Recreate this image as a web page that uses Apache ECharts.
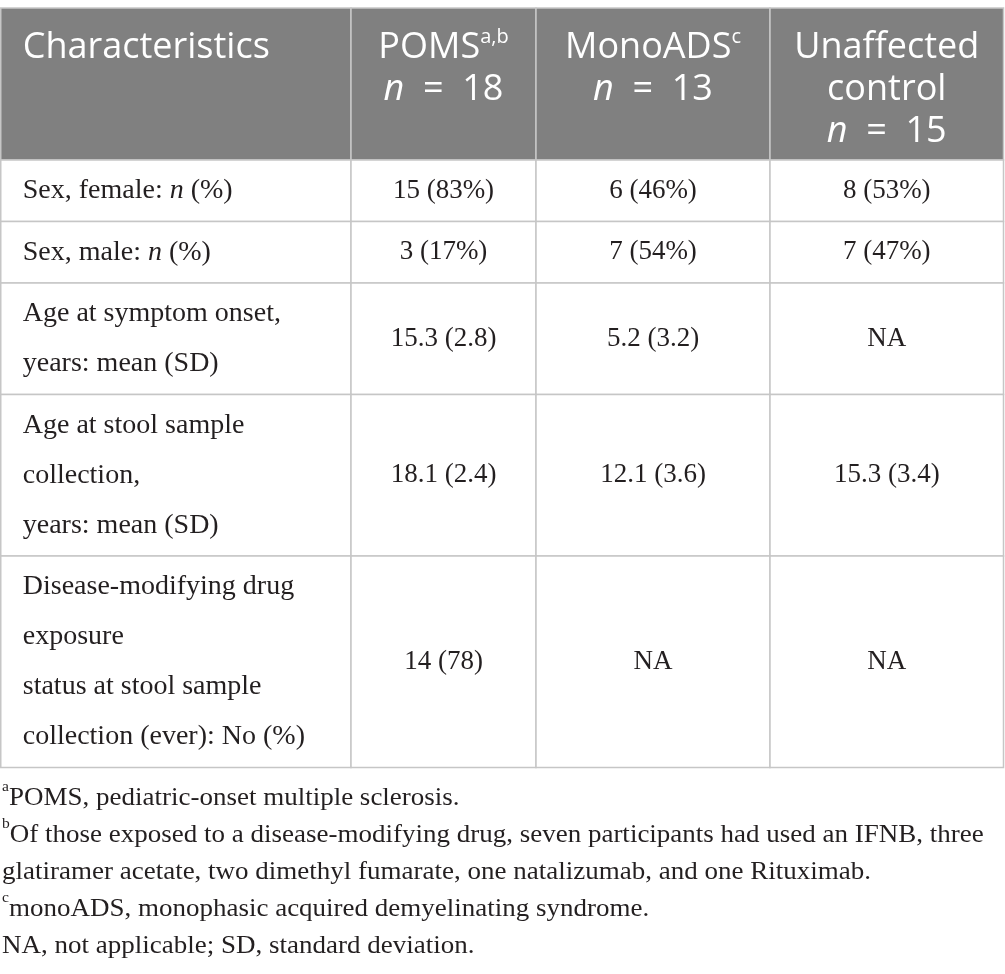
<!DOCTYPE html>
<html>
<head>
<meta charset="utf-8">
<title>Participant characteristics</title>
<style>
  * { margin: 0; padding: 0; }
  body { background: #ffffff; }
  #main { width: 1005px; height: 974px; }
</style>
<script src="https://cdn.jsdelivr.net/npm/echarts@6.0.0/dist/echarts.min.js"></script>
</head>
<body>
<div id="main"></div>
<script>
// table content
var groups = ['POMS', 'MonoADS', 'Unaffected\ncontrol'];
var groupSup = ['a,b', 'c', ''];
var groupN = [18, 13, 15];
var rowLabels = [
  ['Sex, female: n (%)'],
  ['Sex, male: n (%)'],
  ['Age at symptom onset,', 'years: mean (SD)'],
  ['Age at stool sample', 'collection,', 'years: mean (SD)'],
  ['Disease-modifying drug', 'exposure', 'status at stool sample', 'collection (ever): No (%)']
];
var pomsValues = ['15 (83%)', '3 (17%)', '15.3 (2.8)', '18.1 (2.4)', '14 (78)'];
var monoAdsValues = ['6 (46%)', '7 (54%)', '5.2 (3.2)', '12.1 (3.6)', 'NA'];
var controlValues = ['8 (53%)', '7 (47%)', 'NA', '15.3 (3.4)', 'NA'];
var footnoteMarks = ['a', 'b', '', 'c', ''];
var footnotes = [
  'POMS, pediatric-onset multiple sclerosis.',
  'Of those exposed to a disease-modifying drug, seven participants had used an IFNB, three',
  'glatiramer acetate, two dimethyl fumarate, one natalizumab, and one Rituximab.',
  'monoADS, monophasic acquired demyelinating syndrome.',
  'NA, not applicable; SD, standard deviation.'
];

var valueCols = [pomsValues, monoAdsValues, controlValues];

// layout (in axis units = pixels of the 1005x974 page)
var colEdges = [0.75, 351, 536, 770, 1003.5];
var tableTop = 8, headerH = 152, linePad = 11.5, lineH = 50;
var rowEdges = [tableTop, tableTop + headerH];
rowLabels.forEach(function (l) {
  rowEdges.push(rowEdges[rowEdges.length - 1] + linePad + lineH * l.length);
});

var sansFont = '"Open Sans", "DejaVu Sans", sans-serif';
var serifFont = '"Liberation Serif", "DejaVu Serif", serif';
var textColor = '#231f20';

var cells = [];
for (var r = 0; r <= rowLabels.length; r++) {
  for (var c = 0; c < 4; c++) cells.push([c, r]);
}

function headerText(c) {
  if (c === 0) return 'Characteristics';
  var s = groups[c - 1].split('\n').map(function (t) { return '{t|' + t + '}'; }).join('\n');
  if (groupSup[c - 1]) s += '{sup|' + groupSup[c - 1] + '}';
  return s + '\n{it|n}{t|  =  ' + groupN[c - 1] + '}';
}

function renderCell(params, api) {
  var c = api.value(0), r = api.value(1);
  var p0 = api.coord([colEdges[c], rowEdges[r]]);
  var p1 = api.coord([colEdges[c + 1], rowEdges[r + 1]]);
  var w = p1[0] - p0[0], h = p1[1] - p0[1];
  var rect = {
    type: 'rect',
    shape: { x: p0[0], y: p0[1], width: w, height: h },
    style: { fill: r === 0 ? '#808080' : '#ffffff', stroke: '#c6c6c6', lineWidth: 1.5 }
  };
  var text;
  if (r === 0) {
    text = {
      type: 'text',
      style: {
        text: headerText(c),
        x: c === 0 ? p0[0] + 22 : p0[0] + w / 2,
        y: p0[1] + 19,
        align: c === 0 ? 'left' : 'center',
        verticalAlign: 'top',
        fill: '#ffffff',
        fontFamily: sansFont,
        fontSize: 36,
        lineHeight: 42,
        rich: {
          t: { fontFamily: sansFont, fontSize: 36, lineHeight: 42, fill: '#ffffff' },
          it: { fontFamily: sansFont, fontSize: 36, lineHeight: 42, fontStyle: 'italic', fill: '#ffffff' },
          sup: { fontFamily: sansFont, fontSize: 20, lineHeight: 24, verticalAlign: 'top', fill: '#ffffff' }
        }
      }
    };
  } else if (c === 0) {
    var label = rowLabels[r - 1].map(function (l) {
      return l.replace(': n (', ': {i|n} (');
    }).join('\n');
    text = {
      type: 'text',
      style: {
        text: label,
        x: p0[0] + 22,
        y: p0[1] + h / 2,
        align: 'left',
        verticalAlign: 'middle',
        fill: textColor,
        fontFamily: serifFont,
        fontSize: 28,
        lineHeight: lineH,
        rich: {
          i: { fontFamily: serifFont, fontSize: 28, lineHeight: lineH, fontStyle: 'italic', fill: textColor }
        }
      }
    };
  } else {
    text = {
      type: 'text',
      style: {
        text: valueCols[c - 1][r - 1],
        x: p0[0] + w / 2,
        y: p0[1] + h / 2,
        align: 'center',
        verticalAlign: 'middle',
        fill: textColor,
        fontFamily: serifFont,
        fontSize: 27
      }
    };
  }
  return { type: 'group', children: [rect, text] };
}

// footnotes: fit the long line to the width it has in the original
var ctx = document.createElement('canvas').getContext('2d');
ctx.font = '26px "Liberation Serif"';
var fnScale = 974 / ctx.measureText(footnotes[1]).width;

var footGraphics = footnotes.map(function (f, i) {
  var mark = footnoteMarks[i] ? '{s|' + footnoteMarks[i] + '}' : '';
  return {
    type: 'text',
    x: 2,
    y: 798 + 37 * i,
    scaleX: fnScale,
    originX: 0,
    style: {
      text: mark + '{t|' + f + '}',
      verticalAlign: 'middle',
      align: 'left',
      fill: textColor,
      rich: {
        t: { fontFamily: serifFont, fontSize: 26, lineHeight: 37, fill: textColor },
        s: { fontFamily: serifFont, fontSize: 15, lineHeight: 22, verticalAlign: 'top', fill: textColor }
      }
    }
  };
});

var chart = echarts.init(document.getElementById('main'));
chart.setOption({
  animation: false,
  backgroundColor: '#ffffff',
  grid: { left: 0, right: 0, top: 0, bottom: 0 },
  xAxis: { type: 'value', min: 0, max: 1005, show: false },
  yAxis: { type: 'value', min: 0, max: 974, inverse: true, show: false },
  graphic: footGraphics,
  series: [{
    type: 'custom',
    silent: true,
    clip: false,
    renderItem: renderCell,
    data: cells
  }]
});
</script>
</body>
</html>
